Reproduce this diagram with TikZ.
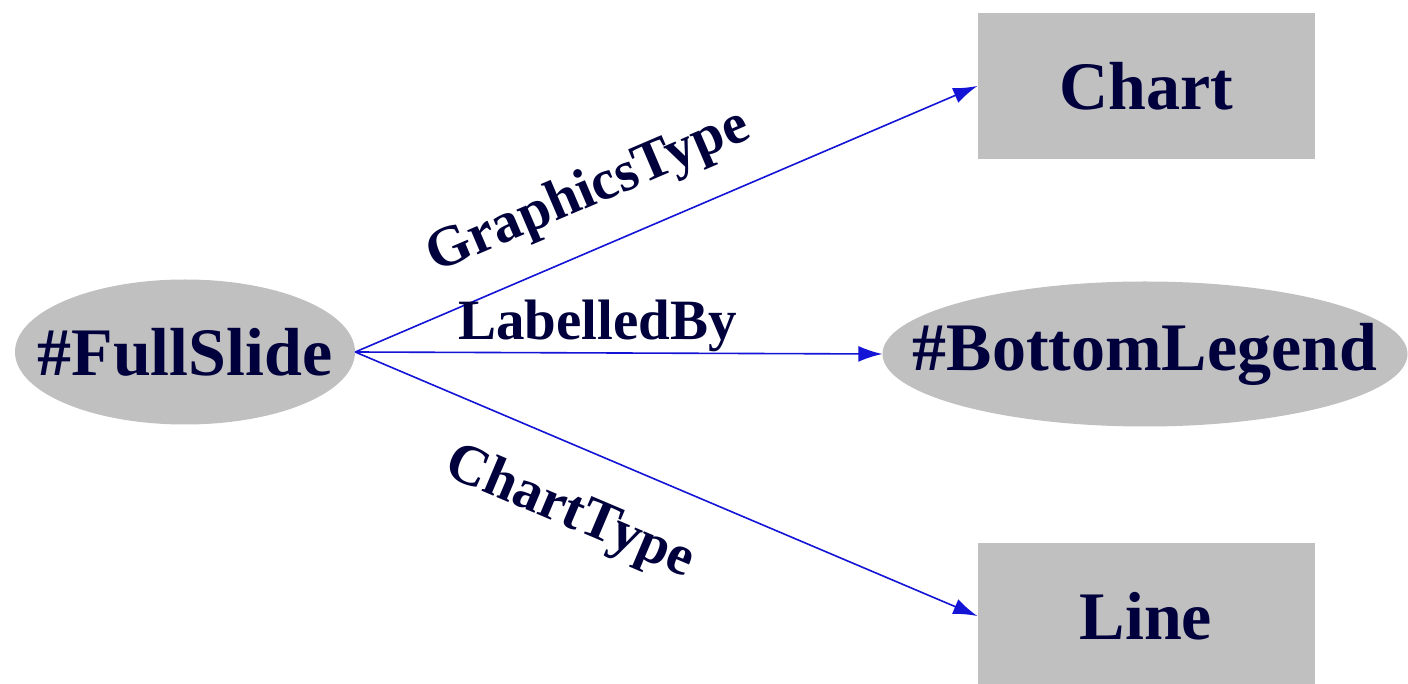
\documentclass[tikz,border=0pt]{standalone}
\usepackage{fontspec}
\setmainfont{Liberation Serif}
\usetikzlibrary{arrows.meta,shapes.geometric}
\definecolor{nodefill}{RGB}{192,192,192}
\definecolor{textnavy}{RGB}{0,0,60}
\definecolor{edgeblue}{RGB}{20,20,215}
\tikzset{
  nodefont/.style={text=textnavy, font=\bfseries\fontsize{68}{74}\selectfont},
  ellnode/.style={ellipse, fill=nodefill, draw=none, inner sep=0pt},
  ellname/.style={nodefont, inner sep=0pt},
  boxnode/.style={rectangle, fill=nodefill, draw=none, inner sep=0pt, nodefont,
    minimum width=337pt, minimum height=146pt},
  edge/.style={draw=edgeblue, line width=1.6pt, -{Latex[length=24pt,width=16pt]}},
  elabel/.style={text=textnavy, inner sep=0pt, font=\bfseries\fontsize{57}{62}\selectfont}
}
\begin{document}
\begin{tikzpicture}[x=1pt,y=1pt]
\useasboundingbox (0,0) rectangle (1408,683);
\clip (0,0) rectangle (1408,683);
\fill[white] (0,0) rectangle (1408,683);
\node[ellnode, minimum width=340pt, minimum height=145pt,
  label={[ellname]center:\#FullSlide}] (full) at (185,331) {};
\node[boxnode] (chart) at (1146,597) {Chart};
\node[ellnode, minimum width=525pt, minimum height=145pt,
  label={[ellname]center:\#BottomLegend}] (legend) at (1145,329) {};
\node[boxnode] (line) at (1146,67) {Line};
\draw[edge] (full.east) -- node[elabel, pos=0.41, sloped, above=28pt] (lgt) {GraphicsType} (chart.west);
\draw[edge] (full.east) -- node[elabel, pos=0.46, above] (llb) {LabelledBy} (legend.west);
\draw[edge] (full.east) -- node[elabel, pos=0.385, sloped, below=38pt] (lct) {ChartType} (line.west);
\end{tikzpicture}
\end{document}
